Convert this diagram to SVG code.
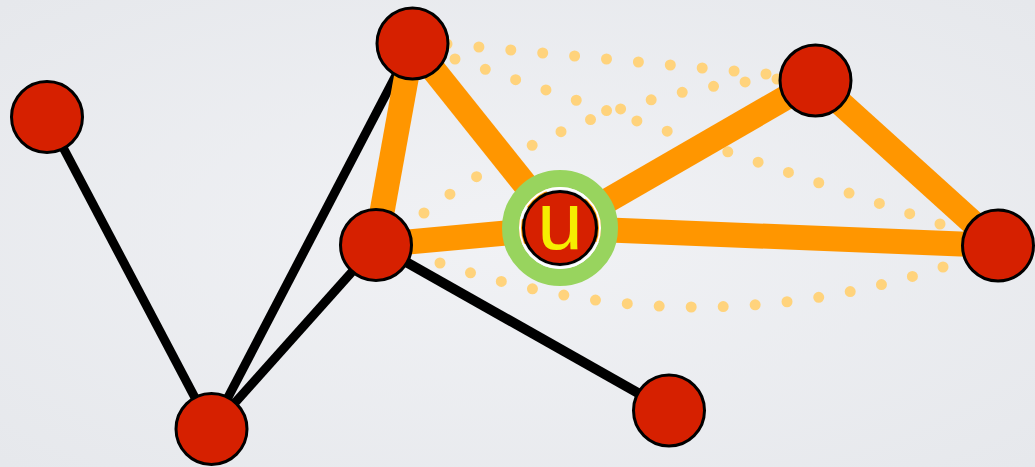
<svg xmlns="http://www.w3.org/2000/svg" width="1035" height="467" viewBox="0 0 1035 467">
<defs>
<radialGradient id="bg" cx="50%" cy="50%" r="70%">
<stop offset="0" stop-color="#F1F2F5"/>
<stop offset="1" stop-color="#E6E8EC"/>
</radialGradient>
</defs>
<style>
.dots{fill:none;stroke:#FFD37C;stroke-width:11;stroke-linecap:round;stroke-dasharray:0 1}
.dot{fill:#FFD37C}
.oe{stroke:#FF9600;stroke-width:25;stroke-linecap:butt}
.be{stroke:#000;stroke-width:9}
.node{fill:#D62000;stroke:#000;stroke-width:3}
.lbl{font-family:"Liberation Sans",Arial,sans-serif;font-size:82px;fill:#F6EE00}
</style>
<rect width="1035" height="467" fill="url(#bg)"/>
<g id="dotted">
<path class="dots" pathLength="10" d="M447,44 L766,74"/>
<path class="dots" pathLength="16" d="M455,59 L940,224"/>
<path class="dots" pathLength="12" d="M424,213 Q583.5,92 777,79"/>
<path class="dots" pathLength="16" d="M440,263 Q692.5,349 943,267"/>
<circle class="dot" cx="766" cy="74" r="5.5"/>
<circle class="dot" cx="940" cy="224" r="5.5"/>
<circle class="dot" cx="943" cy="267" r="5.5"/>
</g>
<g id="connectors">
<line class="be" x1="47" y1="117" x2="211.5" y2="429"/>
<line class="be" x1="211.5" y1="429" x2="412.5" y2="43.5"/>
<line class="be" x1="211.5" y1="429" x2="376" y2="245"/>
<line class="be" x1="376" y1="245" x2="669" y2="410.5" style="stroke-width:10"/>
<line class="oe" x1="412.5" y1="43.5" x2="376" y2="245"/>
<line class="oe" x1="412.5" y1="43.5" x2="560" y2="228"/>
<line class="oe" x1="376" y1="245" x2="560" y2="228"/>
<line class="oe" x1="560" y1="228" x2="815.5" y2="80.5"/>
<line class="oe" x1="560" y1="228" x2="998" y2="245.5"/>
<line class="oe" x1="815.5" y1="80.5" x2="998" y2="245.5"/>
</g>
<g id="node-a"><circle class="node" cx="47" cy="117" r="35.5"/></g>
<g id="node-b"><circle class="node" cx="412.5" cy="43.5" r="35.5"/></g>
<g id="node-c"><circle class="node" cx="376" cy="245" r="35.5"/></g>
<g id="node-d"><circle class="node" cx="211.5" cy="429" r="35.5"/></g>
<g id="node-e"><circle class="node" cx="669" cy="410.5" r="35.5"/></g>
<g id="node-f"><circle class="node" cx="815.5" cy="80.5" r="35.5"/></g>
<g id="node-g"><circle class="node" cx="998" cy="245.5" r="35.5"/></g>
<g id="node-u">
<circle cx="560" cy="228" r="49.5" fill="none" stroke="#98D45E" stroke-width="17"/>
<circle cx="560" cy="228" r="40" fill="none" stroke="#FFFFFF" stroke-width="2"/>
<circle class="node" cx="560" cy="228" r="36.5"/>
<text class="lbl" x="560" y="249" text-anchor="middle">u</text>
</g>
</svg>
